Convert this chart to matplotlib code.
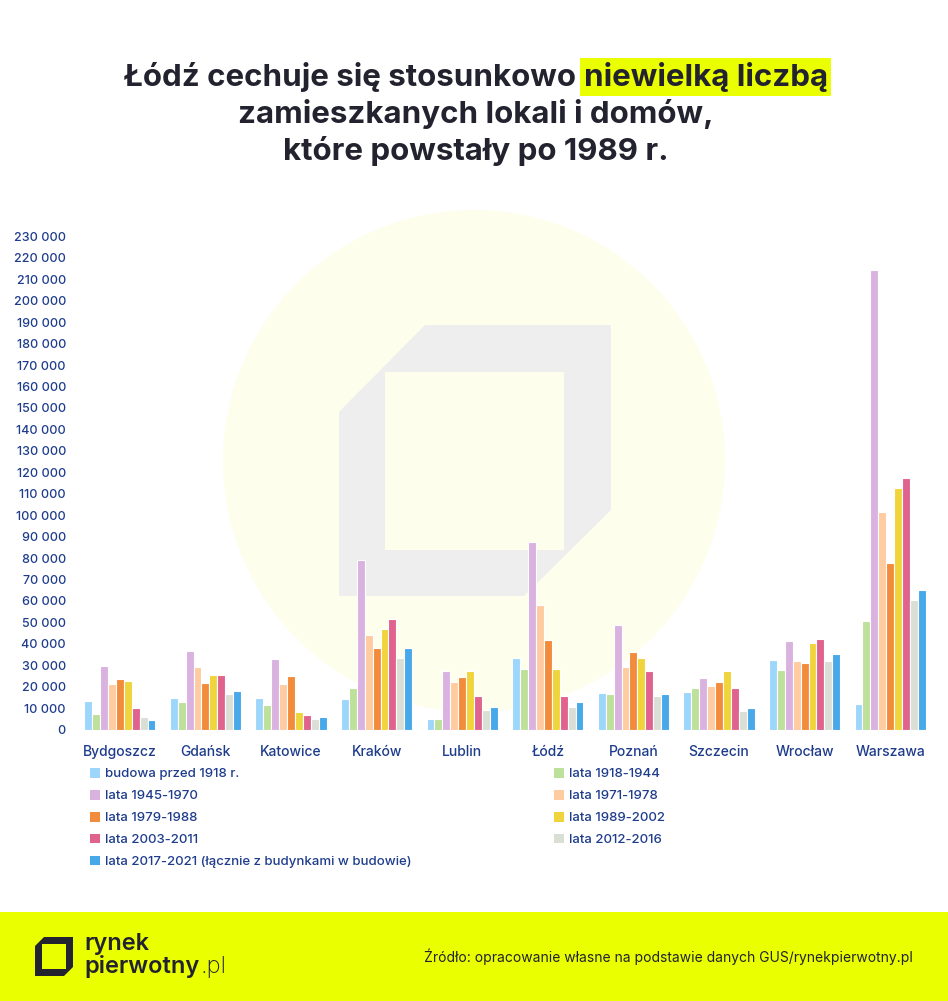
import matplotlib
matplotlib.use("Agg")
import numpy as np
import matplotlib.pyplot as plt
from matplotlib.patches import Circle, Polygon, Rectangle
from matplotlib.ticker import FuncFormatter

# ---------------- data ----------------
cities = ["Bydgoszcz", "Gdańsk", "Katowice", "Kraków", "Lublin",
          "Łódź", "Poznań", "Szczecin", "Wrocław", "Warszawa"]

series_names = [
    "budowa przed 1918 r.",
    "lata 1918-1944",
    "lata 1945-1970",
    "lata 1971-1978",
    "lata 1979-1988",
    "lata 1989-2002",
    "lata 2003-2011",
    "lata 2012-2016",
    "lata 2017-2021 (łącznie z budynkami w budowie)",
]

before_1918 = [13300, 14600, 14800, 14000, 5000, 33500, 17200, 17500, 32600, 11700]
y1918_1944 = [7200, 12800, 11600, 19500, 5000, 28000, 16400, 19400, 27900, 50500]
y1945_1970 = [29600, 36600, 32900, 79200, 27200, 87600, 48600, 24200, 41400, 214600]
y1971_1978 = [21100, 29000, 21200, 43900, 22100, 58200, 29100, 20300, 31900, 101600]
y1979_1988 = [23600, 21600, 25000, 38100, 24300, 41700, 36000, 22000, 31200, 77500]
y1989_2002 = [22800, 25300, 8000, 46700, 27200, 28300, 33500, 27300, 40200, 112600]
y2003_2011 = [9900, 25300, 6800, 51700, 15400, 15400, 27400, 19400, 42200, 117500]
y2012_2016 = [5700, 16600, 4800, 33300, 9300, 10400, 15800, 8700, 31800, 60400]
y2017_2021 = [4400, 18000, 5700, 38100, 10400, 12900, 16400, 10200, 35200, 65300]

series_values = [before_1918, y1918_1944, y1945_1970, y1971_1978, y1979_1988,
                 y1989_2002, y2003_2011, y2012_2016, y2017_2021]

colors = ["#9DD6FB", "#BDE09A", "#D9B2E0", "#FFCBA0", "#F28C3C",
          "#F0D43C", "#E0638E", "#DADFD6", "#47A8EA"]

y_ticks = np.arange(0, 230001, 10000)

title_lines = ["Łódź cechuje się stosunkowo ", "niewielką liczbą",
               "zamieszkanych lokali i domów,", "które powstały po 1989 r."]
source_text = "Źródło: opracowanie własne na podstawie danych GUS/rynekpierwotny.pl"

# ---------------- style ----------------
W, H = 948, 1001
navy = "#1E3C8C"
dark = "#23232F"
lime = "#EAFF00"
plt.rcParams["font.family"] = ["Inter", "DejaVu Sans"]

fig = plt.figure(figsize=(W / 100, H / 100), dpi=100)
fig.patch.set_facecolor("white")

# background layer in pixel coordinates
bg = fig.add_axes([0, 0, 1, 1], zorder=0)
bg.set_xlim(0, W)
bg.set_ylim(H, 0)
bg.axis("off")

bg.add_patch(Circle((474, 461), 251, color="#FDFEEB", lw=0))
bg.add_patch(Polygon([(339, 412), (425, 325), (611, 325), (611, 510),
                      (524, 596), (339, 596)], closed=True, color="#EEEEEE", lw=0))
bg.add_patch(Rectangle((385.5, 372), 179, 178, color="#FDFEEB", lw=0))

# footer
bg.add_patch(Rectangle((0, 912), W, H - 912, color=lime, lw=0))
bg.add_patch(Polygon([(35, 946), (44, 937), (73, 937), (73, 967),
                      (64, 976), (35, 976)], closed=True, color=dark, lw=0))
bg.add_patch(Rectangle((42, 944), 24, 25, color=lime, lw=0))

# ---------------- bar chart ----------------
ax = fig.add_axes([77 / W, 1 - 729.5 / H, 856 / W, 493 / H], zorder=1)
ax.patch.set_alpha(0)

x = np.arange(len(cities))
n = len(series_values)
bw = 0.0925
handles = []
for i, (vals, col) in enumerate(zip(series_values, colors)):
    off = (i - (n - 1) / 2) * bw
    b = ax.bar(x + off, vals, width=bw, color=col, edgecolor="white",
               linewidth=0.8, label=series_names[i])
    handles.append(b)

ax.set_xlim(-0.5, len(cities) - 0.5)
ax.set_ylim(0, 230000)
ax.set_yticks(y_ticks)
ax.yaxis.set_major_formatter(FuncFormatter(lambda v, p: f"{int(v):,}".replace(",", " ")))
ax.set_xticks(x)
ax.set_xticklabels(cities)
for s in ax.spines.values():
    s.set_visible(False)
ax.tick_params(axis="y", length=0, pad=8, labelsize=9, labelcolor=navy)
ax.tick_params(axis="x", length=0, pad=11, labelsize=10, labelcolor=navy)
for lab in ax.get_yticklabels() + ax.get_xticklabels():
    lab.set_fontweight("medium")

# legend in two columns
leg_kw = dict(frameon=False, fontsize=9.5, labelcolor=navy, handlelength=0.75,
              handleheight=0.75, handletextpad=0.4, labelspacing=0.72,
              borderpad=0, borderaxespad=0)
left_idx = [0, 2, 4, 6, 8]
right_idx = [1, 3, 5, 7]
leg1 = fig.legend([handles[i] for i in left_idx], [series_names[i] for i in left_idx],
                  loc="upper left", bbox_to_anchor=(90 / W, 1 - 768 / H), **leg_kw)
leg2 = fig.legend([handles[i] for i in right_idx], [series_names[i] for i in right_idx],
                  loc="upper left", bbox_to_anchor=(554 / W, 1 - 768 / H), **leg_kw)
for lg in (leg1, leg2):
    for t in lg.get_texts():
        t.set_fontweight("medium")
    for p in lg.legend_handles:
        p.set_edgecolor("none")

# ---------------- title ----------------
fig.canvas.draw()
r = fig.canvas.get_renderer()
tkw = dict(fontsize=22.5, fontweight="bold", color=dark, va="center")
t1 = bg.text(0, 77, title_lines[0], ha="left", **tkw)
t2 = bg.text(0, 77, title_lines[1], ha="left",
             bbox=dict(boxstyle="square,pad=0.12", fc=lime, ec="none"), **tkw)
w1 = t1.get_window_extent(r).width
w2 = t2.get_window_extent(r).width
x0 = 476 - (w1 + w2) / 2
t1.set_x(x0)
t2.set_x(x0 + w1)
bg.text(476, 114, title_lines[2], ha="center", **tkw)
bg.text(476, 151, title_lines[3], ha="center", **tkw)

# footer texts
bg.text(84, 944, "rynek", fontsize=17, fontweight="semibold", color=dark, va="center")
tp = bg.text(84, 967, "pierwotny", fontsize=17, fontweight="semibold", color=dark, va="center")
wp = tp.get_window_extent(r).width
bg.text(84 + wp + 1, 967, ".pl", fontsize=17, fontweight="light", color=dark, va="center")
bg.text(913, 957, source_text, fontsize=10, color=dark, ha="right", va="center")

fig.savefig("out.png", dpi=100)
